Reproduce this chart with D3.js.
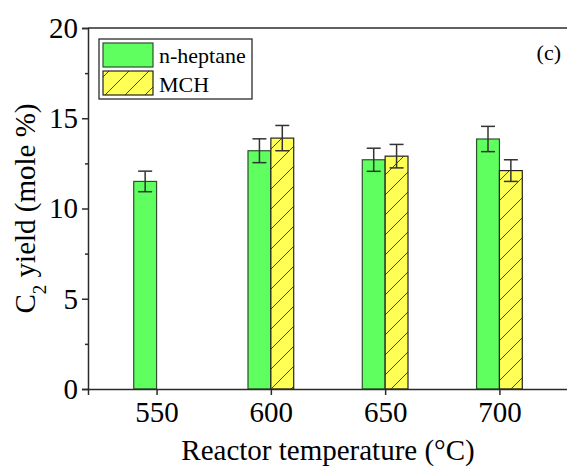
<!DOCTYPE html>
<html>
<head>
<meta charset="utf-8">
<script src="https://cdn.jsdelivr.net/npm/d3@7"></script>
<style>
body { margin: 0; background: #fff; }
svg { display: block; font-family: "Liberation Serif", "Times New Roman", serif; }
</style>
</head>
<body>
<svg id="chart" width="567" height="469"></svg>
<script>
var temps = [550, 600, 650, 700];
var heptane = [11.5, 13.2, 12.7, 13.85];
var heptaneErr = [0.57, 0.66, 0.64, 0.7];
var mch = [null, 13.9, 12.9, 12.1];
var mchErr = [null, 0.7, 0.65, 0.6];
var yTicks = [0, 5, 10, 15, 20];
var yMinor = [2.5, 7.5, 12.5, 17.5];
var seriesNames = ["n-heptane", "MCH"];

var svg = d3.select("#chart");
var plotL = 88, plotR = 568, plotT = 28, plotB = 389;
var ink = "#2b2b2b";

var x = d3.scaleLinear().domain([520, 730]).range([plotL, plotR]);
var y = d3.scaleLinear().domain([0, 20]).range([plotB, plotT]);
var barW = 10;

var defs = svg.append("defs");
var pat = defs.append("pattern")
	.attr("id", "hatch")
	.attr("patternUnits", "userSpaceOnUse")
	.attr("width", 20).attr("height", 20);
pat.append("rect").attr("width", 20).attr("height", 20).attr("fill", "#ffff55");
pat.append("path")
	.attr("d", "M0,20 L20,0 M-5,5 L5,-5 M15,25 L25,15")
	.attr("stroke", "#333").attr("stroke-width", 0.9);

// bars
var rows = temps.map(function(t, i) {
	return {t: t, h: heptane[i], he: heptaneErr[i], m: mch[i], me: mchErr[i]};
});

var g = svg.append("g");

g.selectAll(".hep")
	.data(rows)
	.enter().append("rect")
	.attr("class", "hep")
	.attr("x", function(d) { return x(d.t - barW); })
	.attr("width", function(d) { return x(d.t) - x(d.t - barW); })
	.attr("y", function(d) { return y(d.h); })
	.attr("height", function(d) { return plotB - y(d.h); })
	.attr("fill", "#5eff5e")
	.attr("stroke", "#2f4f2f")
	.attr("stroke-width", 1.2);

var mrows = rows.filter(function(d) { return d.m != null; });
g.selectAll(".mch")
	.data(mrows)
	.enter().append("rect")
	.attr("class", "mch")
	.attr("x", function(d) { return x(d.t); })
	.attr("width", function(d) { return x(d.t + barW) - x(d.t); })
	.attr("y", function(d) { return y(d.m); })
	.attr("height", function(d) { return plotB - y(d.m); })
	.attr("fill", "url(#hatch)")
	.attr("stroke", "#222")
	.attr("stroke-width", 1.2);

// error bars
var errs = [];
rows.forEach(function(d) {
	errs.push({cx: d.t - barW / 2, v: d.h, e: d.he});
	if (d.m != null) errs.push({cx: d.t + barW / 2, v: d.m, e: d.me});
});
var cap = 7;
var eb = g.selectAll(".err").data(errs).enter().append("g")
	.attr("class", "err")
	.attr("stroke", "#333")
	.attr("stroke-width", 1.5);
eb.append("line")
	.attr("x1", function(d) { return x(d.cx); })
	.attr("x2", function(d) { return x(d.cx); })
	.attr("y1", function(d) { return y(d.v + d.e); })
	.attr("y2", function(d) { return y(d.v - d.e); });
eb.append("line")
	.attr("x1", function(d) { return x(d.cx) - cap; })
	.attr("x2", function(d) { return x(d.cx) + cap; })
	.attr("y1", function(d) { return y(d.v + d.e); })
	.attr("y2", function(d) { return y(d.v + d.e); });
eb.append("line")
	.attr("x1", function(d) { return x(d.cx) - cap; })
	.attr("x2", function(d) { return x(d.cx) + cap; })
	.attr("y1", function(d) { return y(d.v - d.e); })
	.attr("y2", function(d) { return y(d.v - d.e); });

// axes
var xAxis = svg.append("g")
	.attr("transform", "translate(0," + plotB + ")")
	.call(d3.axisBottom(x).tickValues(temps).tickSize(6).tickPadding(4).tickFormat(d3.format("d")));
var yAxis = svg.append("g")
	.attr("transform", "translate(" + plotL + ",0)")
	.call(d3.axisLeft(y).tickValues(yTicks).tickSize(6).tickPadding(4).tickFormat(d3.format("d")));
svg.append("g")
	.attr("transform", "translate(" + plotL + ",0)")
	.call(d3.axisLeft(y).tickValues(yMinor).tickSize(3).tickFormat(""))
	.select(".domain").remove();

[xAxis, yAxis].forEach(function(a) {
	a.attr("font-family", null).attr("font-size", null);
	a.select(".domain").attr("stroke", ink).attr("stroke-width", 1.5);
	a.selectAll(".tick text")
		.attr("fill", "#000")
		.style("font-size", "29px");
});
xAxis.selectAll(".tick text").attr("dy", "0.8em");
svg.selectAll(".tick line").attr("stroke", ink).attr("stroke-width", 1.5);

// top border
svg.append("line")
	.attr("x1", plotL).attr("x2", plotR)
	.attr("y1", plotT).attr("y2", plotT)
	.attr("stroke", ink).attr("stroke-width", 1.5);

// axis titles
svg.append("text")
	.attr("x", (plotL + plotR) / 2).attr("y", 460)
	.attr("text-anchor", "middle")
	.style("font-size", "29px")
	.text("Reactor temperature (\u00B0C)");

var yt = svg.append("text")
	.attr("transform", "translate(35," + (plotT + plotB) / 2 + ") rotate(-90)")
	.attr("text-anchor", "middle")
	.style("font-size", "29px");
yt.append("tspan").text("C");
yt.append("tspan").attr("baseline-shift", "sub").style("font-size", "19px").text("2");
yt.append("tspan").text(" yield (mole %)");

// legend
var lg = svg.append("g");
lg.append("rect")
	.attr("x", 99).attr("y", 39).attr("width", 153).attr("height", 60)
	.attr("fill", "#fff").attr("stroke", ink).attr("stroke-width", 1.3);
var fills = ["#5eff5e", "url(#hatch)"];
seriesNames.forEach(function(name, i) {
	lg.append("rect")
		.attr("x", 103).attr("y", 43 + i * 28).attr("width", 50).attr("height", 24)
		.attr("fill", fills[i]).attr("stroke", i == 0 ? "#2f4f2f" : "#222").attr("stroke-width", 1.2);
	lg.append("text")
		.attr("x", 159).attr("y", 63 + i * 28.5)
		.style("font-size", "22px")
		.text(name);
});

svg.append("text")
	.attr("x", 561).attr("y", 60)
	.attr("text-anchor", "end")
	.style("font-size", "22px")
	.text("(c)");
</script>
</body>
</html>
